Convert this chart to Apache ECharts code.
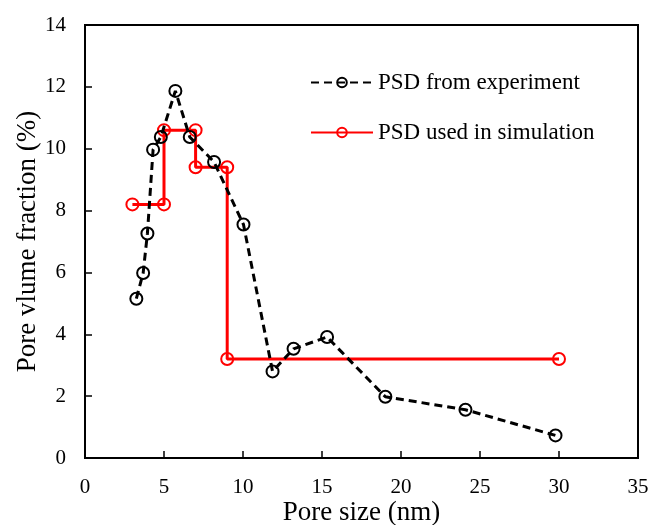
<!DOCTYPE html>
<html>
<head>
<meta charset="utf-8">
<script src="https://cdn.jsdelivr.net/npm/echarts@6/dist/echarts.min.js"></script>
<style>
  html, body { margin: 0; padding: 0; background: #fff; }
  #chart { width: 651px; height: 525px; }
</style>
</head>
<body>
<div id="chart"></div>
<script>
// pore size (nm) and volume fraction (%)
const expSize = [3.25, 3.68, 3.95, 4.31, 4.8, 5.72, 6.63, 8.17, 10.03, 11.87, 13.2, 15.32, 19.01, 24.08, 29.78];
const expFrac = [5.15, 5.98, 7.26, 9.97, 10.38, 11.87, 10.38, 9.57, 7.55, 2.8, 3.53, 3.91, 1.98, 1.56, 0.73];

const simSize = [3, 5, 5, 7, 7, 9, 9, 30];
const simFrac = [8.2, 8.2, 10.6, 10.6, 9.4, 9.4, 3.2, 3.2];

const seriesNames = ["PSD from experiment", "PSD used in simulation"];

const FONT = "Liberation Serif";

const chart = echarts.init(document.getElementById("chart"));

const pairs = (xs, ys) => xs.map((x, i) => [x, ys[i]]);

chart.setOption({
    backgroundColor: "#fff",
    animation: false,
    textStyle: { fontFamily: FONT, color: "#000" },
    grid: {
        left: 85, right: 13, top: 25, bottom: 67,
        outerBoundsMode: "none",
        containLabel: false,
        show: true,
        borderColor: "#000",
        borderWidth: 2
    },
    legend: {
        data: seriesNames,
        orient: "vertical",
        left: 305,
        top: 66,
        itemWidth: 62,
        itemHeight: 12,
        itemGap: 27,
        textStyle: { fontFamily: FONT, fontSize: 23, color: "#000" }
    },
    xAxis: {
        type: "value",
        min: 0, max: 35, interval: 5,
        name: "Pore size (nm)",
        nameLocation: "middle",
        nameGap: 41,
        nameMoveOverlap: false,
        nameTextStyle: { fontFamily: FONT, fontSize: 27, color: "#000" },
        axisLine: { lineStyle: { color: "#000", width: 2 } },
        axisTick: { inside: true, length: 7, lineStyle: { color: "#000", width: 1.5 } },
        axisLabel: { fontFamily: FONT, fontSize: 21, color: "#000", margin: 19 },
        splitLine: { show: false }
    },
    yAxis: {
        type: "value",
        min: 0, max: 14, interval: 2,
        name: "Pore vlume fraction (%)",
        nameLocation: "middle",
        nameGap: 44,
        nameMoveOverlap: false,
        nameTextStyle: { fontFamily: FONT, fontSize: 27, color: "#000" },
        axisLine: { lineStyle: { color: "#000", width: 2 } },
        axisTick: { inside: true, length: 7, lineStyle: { color: "#000", width: 1.5 } },
        axisLabel: { fontFamily: FONT, fontSize: 21, color: "#000", margin: 19 },
        splitLine: { show: false }
    },
    series: [
        {
            name: seriesNames[0],
            type: "line",
            data: pairs(expSize, expFrac),
            symbol: "circle",
            symbolSize: 12,
            z: 3,
            lineStyle: { color: "#000", width: 3, type: [8, 5] },
            itemStyle: { color: "transparent", borderColor: "#000", borderWidth: 2 }
        },
        {
            name: seriesNames[1],
            type: "line",
            data: pairs(simSize, simFrac),
            symbol: "circle",
            symbolSize: 12,
            z: 2,
            lineStyle: { color: "#ff0000", width: 3 },
            itemStyle: { color: "transparent", borderColor: "#ff0000", borderWidth: 2 }
        }
    ]
});
</script>
</body>
</html>
